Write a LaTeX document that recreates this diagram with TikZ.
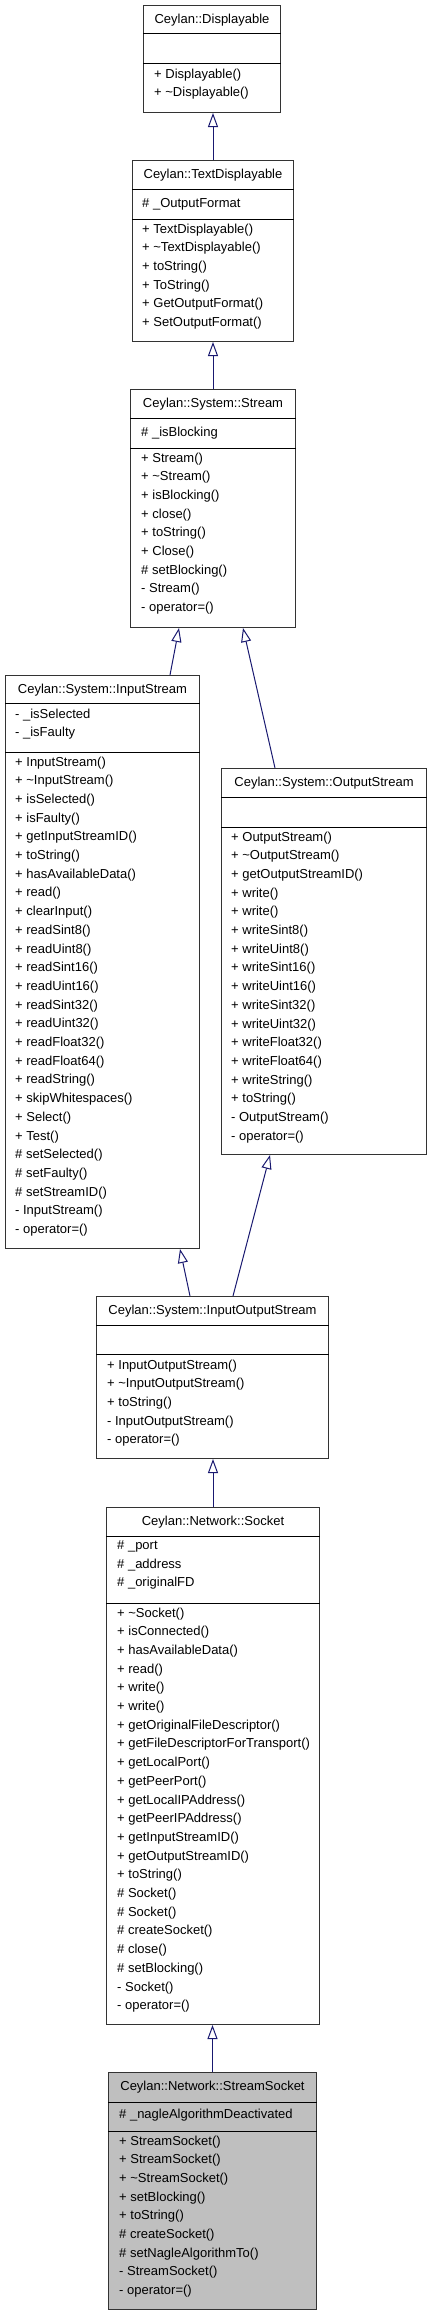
\documentclass[tikz,border=0pt]{standalone}
\usepackage{fontspec}
\setmainfont{Liberation Sans}
\usetikzlibrary{arrows.meta,positioning}
\definecolor{midnight}{RGB}{25,25,112}
\definecolor{leafgray}{gray}{0.75}

\begin{document}
\begin{tikzpicture}[x=1pt,y=-1pt,
  classbox/.style={draw=black!80,line width=1pt,inner sep=0pt,anchor=north west},
  sepline/.style={draw=black,line width=1pt},
  cname/.style={anchor=base,inner sep=0pt},
  members/.style={anchor=north west,align=left,inner sep=0pt,execute at begin node=\strut},
  inherit/.style={draw=midnight,line width=1pt,-{Triangle[length=14pt,width=10pt,fill=white]}},
  font=\fontsize{13}{18.7}\selectfont]
\useasboundingbox (0,0) rectangle (429,2315);

% Ceylan::Displayable
\node[classbox,minimum width=137pt,minimum height=107pt] (disp) at (143,5) {};
\draw[sepline] ([yshift=-29pt]disp.north west) -- ([yshift=-29pt]disp.north east);
\draw[sepline] ([yshift=-59pt]disp.north west) -- ([yshift=-59pt]disp.north east);
\node[cname] (disp-name) at ([yshift=-18.5pt]disp.north) {Ceylan::Displayable};
\node[members] (disp-ops) at ([xshift=11pt,yshift=-63.4pt]disp.north west)
  {+ Displayable()\\+ \textasciitilde Displayable()};

% Ceylan::TextDisplayable
\node[classbox,minimum width=161pt,minimum height=181pt] (textdisp) at (132,160) {};
\draw[sepline] ([yshift=-29pt]textdisp.north west) -- ([yshift=-29pt]textdisp.north east);
\draw[sepline] ([yshift=-59pt]textdisp.north west) -- ([yshift=-59pt]textdisp.north east);
\node[cname] (textdisp-name) at ([yshift=-18.5pt]textdisp.north) {Ceylan::TextDisplayable};
\node[members] (textdisp-attr) at ([xshift=10pt,yshift=-34.4pt]textdisp.north west) {\# \_OutputFormat};
\node[members] (textdisp-ops) at ([xshift=10pt,yshift=-63.4pt]textdisp.north west)
  {+ TextDisplayable()\\+ \textasciitilde TextDisplayable()\\+ toString()\\+ ToString()\\
   + GetOutputFormat()\\+ SetOutputFormat()};

% Ceylan::System::Stream
\node[classbox,minimum width=165pt,minimum height=238pt] (stream) at (130,389) {};
\draw[sepline] ([yshift=-29pt]stream.north west) -- ([yshift=-29pt]stream.north east);
\draw[sepline] ([yshift=-59pt]stream.north west) -- ([yshift=-59pt]stream.north east);
\node[cname] (stream-name) at ([yshift=-18.5pt]stream.north) {Ceylan::System::Stream};
\node[members] (stream-attr) at ([xshift=11pt,yshift=-34.4pt]stream.north west) {\# \_isBlocking};
\node[members] (stream-ops) at ([xshift=11pt,yshift=-63.4pt]stream.north west)
  {+ Stream()\\+ \textasciitilde Stream()\\+ isBlocking()\\+ close()\\+ toString()\\+ Close()\\
   \# setBlocking()\\- Stream()\\- operator=()};

% Ceylan::System::InputStream
\node[classbox,minimum width=194pt,minimum height=573pt] (instream) at (5,675) {};
\draw[sepline] ([yshift=-28pt]instream.north west) -- ([yshift=-28pt]instream.north east);
\draw[sepline] ([yshift=-77pt]instream.north west) -- ([yshift=-77pt]instream.north east);
\node[cname] (instream-name) at ([yshift=-18pt]instream.north) {Ceylan::System::InputStream};
\node[members] (instream-attr) at ([xshift=10pt,yshift=-33.4pt]instream.north west)
  {- \_isSelected\\- \_isFaulty};
\node[members] (instream-ops) at ([xshift=10pt,yshift=-81.4pt]instream.north west)
  {+ InputStream()\\+ \textasciitilde InputStream()\\+ isSelected()\\+ isFaulty()\\
   + getInputStreamID()\\+ toString()\\+ hasAvailableData()\\+ read()\\+ clearInput()\\
   + readSint8()\\+ readUint8()\\+ readSint16()\\+ readUint16()\\+ readSint32()\\
   + readUint32()\\+ readFloat32()\\+ readFloat64()\\+ readString()\\
   + skipWhitespaces()\\+ Select()\\+ Test()\\\# setSelected()\\\# setFaulty()\\
   \# setStreamID()\\- InputStream()\\- operator=()};

% Ceylan::System::OutputStream
\node[classbox,minimum width=205pt,minimum height=386pt] (outstream) at (221,768) {};
\draw[sepline] ([yshift=-29pt]outstream.north west) -- ([yshift=-29pt]outstream.north east);
\draw[sepline] ([yshift=-59pt]outstream.north west) -- ([yshift=-59pt]outstream.north east);
\node[cname] (outstream-name) at ([yshift=-18pt]outstream.north) {Ceylan::System::OutputStream};
\node[members] (outstream-ops) at ([xshift=10pt,yshift=-63.4pt]outstream.north west)
  {+ OutputStream()\\+ \textasciitilde OutputStream()\\+ getOutputStreamID()\\+ write()\\
   + write()\\+ writeSint8()\\+ writeUint8()\\+ writeSint16()\\+ writeUint16()\\
   + writeSint32()\\+ writeUint32()\\+ writeFloat32()\\+ writeFloat64()\\
   + writeString()\\+ toString()\\- OutputStream()\\- operator=()};

% Ceylan::System::InputOutputStream
\node[classbox,minimum width=232pt,minimum height=162pt] (iostream) at (96,1296) {};
\draw[sepline] ([yshift=-29pt]iostream.north west) -- ([yshift=-29pt]iostream.north east);
\draw[sepline] ([yshift=-58pt]iostream.north west) -- ([yshift=-58pt]iostream.north east);
\node[cname] (iostream-name) at ([yshift=-18pt]iostream.north) {Ceylan::System::InputOutputStream};
\node[members] (iostream-ops) at ([xshift=11pt,yshift=-63.4pt]iostream.north west)
  {+ InputOutputStream()\\+ \textasciitilde InputOutputStream()\\+ toString()\\
   - InputOutputStream()\\- operator=()};

% Ceylan::Network::Socket
\node[classbox,minimum width=213pt,minimum height=517pt] (socket) at (106,1507) {};
\draw[sepline] ([yshift=-29pt]socket.north west) -- ([yshift=-29pt]socket.north east);
\draw[sepline] ([yshift=-96pt]socket.north west) -- ([yshift=-96pt]socket.north east);
\node[cname] (socket-name) at ([yshift=-18pt]socket.north) {Ceylan::Network::Socket};
\node[members] (socket-attr) at ([xshift=11pt,yshift=-33.4pt]socket.north west)
  {\# \_port\\\# \_address\\\# \_originalFD};
\node[members] (socket-ops) at ([xshift=11pt,yshift=-100.4pt]socket.north west)
  {+ \textasciitilde Socket()\\+ isConnected()\\+ hasAvailableData()\\+ read()\\+ write()\\
   + write()\\+ getOriginalFileDescriptor()\\+ getFileDescriptorForTransport()\\
   + getLocalPort()\\+ getPeerPort()\\+ getLocalIPAddress()\\+ getPeerIPAddress()\\
   + getInputStreamID()\\+ getOutputStreamID()\\+ toString()\\\# Socket()\\\# Socket()\\
   \# createSocket()\\\# close()\\\# setBlocking()\\- Socket()\\- operator=()};

% Ceylan::Network::StreamSocket
\node[classbox,fill=leafgray,minimum width=208pt,minimum height=237pt] (streamsock) at (108,2072) {};
\draw[sepline] ([yshift=-30pt]streamsock.north west) -- ([yshift=-30pt]streamsock.north east);
\draw[sepline] ([yshift=-59pt]streamsock.north west) -- ([yshift=-59pt]streamsock.north east);
\node[cname] (streamsock-name) at ([yshift=-18pt]streamsock.north) {Ceylan::Network::StreamSocket};
\node[members] (streamsock-attr) at ([xshift=11pt,yshift=-33.4pt]streamsock.north west)
  {\# \_nagleAlgorithmDeactivated};
\node[members] (streamsock-ops) at ([xshift=11pt,yshift=-63.4pt]streamsock.north west)
  {+ StreamSocket()\\+ StreamSocket()\\+ \textasciitilde StreamSocket()\\+ setBlocking()\\
   + toString()\\\# createSocket()\\\# setNagleAlgorithmTo()\\- StreamSocket()\\- operator=()};

% inheritance
\draw[inherit] (textdisp.north) -- (textdisp.north |- disp.south);
\draw[inherit] (stream.north) -- (stream.north |- textdisp.south);
\draw[inherit] ([xshift=165pt]instream.north west) -- ([xshift=49pt]stream.south west);
\draw[inherit] ([xshift=54pt]outstream.north west) -- ([xshift=113pt]stream.south west);
\draw[inherit] ([xshift=94pt]iostream.north west) -- ([xshift=175pt]instream.south west);
\draw[inherit] ([xshift=137pt]iostream.north west) -- ([xshift=49pt]outstream.south west);
\draw[inherit] (socket.north) -- (socket.north |- iostream.south);
\draw[inherit] (streamsock.north) -- (streamsock.north |- socket.south);
\end{tikzpicture}
\end{document}
